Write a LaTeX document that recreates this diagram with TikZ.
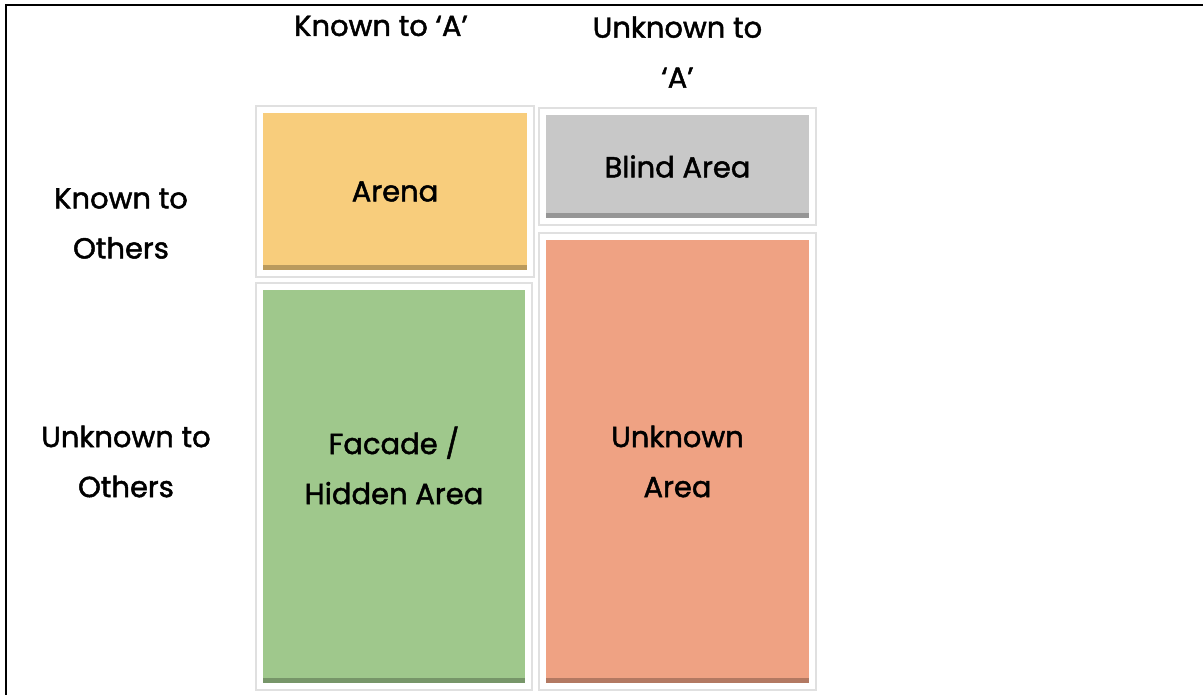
\documentclass[tikz,border=0pt]{standalone}
\usepackage{fontspec}
\setmainfont{Poppins}
\newfontfamily\lblfont[FakeBold=1.6]{Poppins}
\definecolor{arenacol}{HTML}{F8CD7C}
\definecolor{blindcol}{HTML}{C8C8C8}
\definecolor{facadecol}{HTML}{9FC88C}
\definecolor{unknowncol}{HTML}{EFA283}
\newcommand{\lbl}{\lblfont\fontsize{29}{50}\selectfont}

\begin{document}
\begin{tikzpicture}[x=1pt, y=1pt, node distance=100pt]
    \tikzset{quad/.style={rectangle, draw=white, line width=6pt, fill=#1, inner sep=0pt, font=\lbl, align=center,
        preaction={draw=black!12, line width=10pt},
        path picture={\fill[#1!75!black] (path picture bounding box.south west) rectangle ([yshift=8pt]path picture bounding box.south east);}}}
    \tikzstyle{head} = [font=\lbl, align=center, inner sep=0pt]
    \tikzstyle{rule} = [line width=2pt, black]

    \useasboundingbox (0,0) rectangle (1203,695);

    % Frame
    \draw [rule] (1203,689.5) -- (6,689.5) -- (6,0);

    % Quadrants
    \node [quad=arenacol, minimum width=270pt, minimum height=163pt] (arena) at (395,503.5) {Arena};
    \node [quad=blindcol, minimum width=269pt, minimum height=109pt, right of=arena, node distance=282.5pt, yshift=25pt] (blind) {Blind Area};
    \node [quad=facadecol, minimum width=268pt, minimum height=399pt, below of=arena, node distance=295pt, xshift=-1pt,
        label={[head, yshift=21pt]center:Facade /\\Hidden Area}] (facade) {};
    \node [quad=unknowncol, minimum width=269pt, minimum height=449pt, below of=blind, node distance=295pt] (unknown) {Unknown\\Area};

    % Headings
    \node [head, above of=arena, node distance=165.5pt, xshift=-14pt] (hdrknown) {Known to ‘A’};
    \node [head, above of=blind, node distance=114.5pt] (hdrunknown) {Unknown to\\‘A’};
    \node [head, left of=arena, node distance=274pt, yshift=-32pt] (rowknown) {Known to\\Others};
    \node [head, left of=facade, node distance=268pt, yshift=25pt] (rowunknown) {Unknown to\\Others};
\end{tikzpicture}
\end{document}
